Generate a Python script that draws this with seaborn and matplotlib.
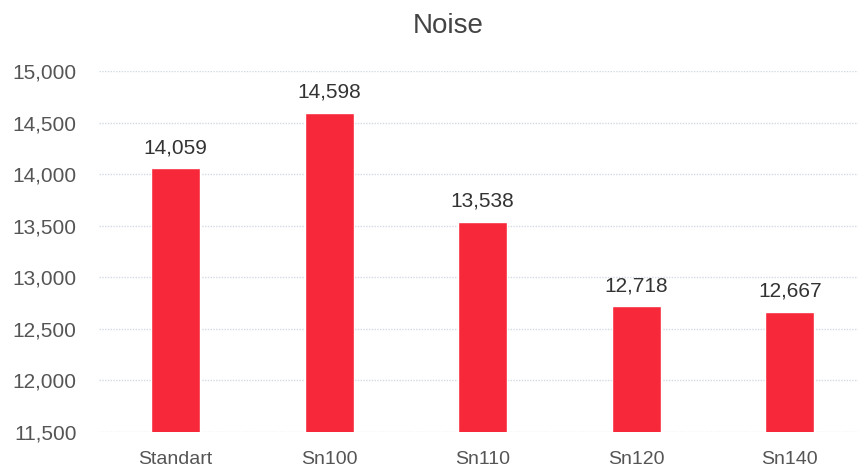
import matplotlib
matplotlib.use("Agg")
import matplotlib.pyplot as plt
import seaborn as sns
import pandas as pd
from matplotlib.ticker import FuncFormatter

categories = ["Standart", "Sn100", "Sn110", "Sn120", "Sn140"]
values = [14059, 14598, 13538, 12718, 12667]
labels = ["14,059", "14,598", "13,538", "12,718", "12,667"]

sns.set_theme(style="white")
plt.rcParams["font.family"] = ["Liberation Sans", "DejaVu Sans"]

df = pd.DataFrame({"cat": categories, "val": values})

fig = plt.figure(figsize=(8.59, 4.68), dpi=100)
ax = fig.add_axes([0.115, 0.077, 0.884, 0.771])

sns.barplot(data=df, x="cat", y="val", color="#F7283A", width=0.32,
            saturation=1, ax=ax, zorder=3)

ax.set_ylim(11500, 15000)
ax.set_xlim(-0.5, 4.445)
ax.set_yticks(range(11500, 15001, 500))
ax.yaxis.set_major_formatter(FuncFormatter(lambda v, p: f"{int(v):,}"))
ax.grid(axis="y", color="#D3DAE4", linestyle=(0, (1, 1)), linewidth=1.0, zorder=0)
ax.set_axisbelow(True)
for s in ax.spines.values():
    s.set_visible(False)
ax.set_xlabel("")
ax.set_ylabel("")
ax.tick_params(axis="y", labelsize=15, labelcolor="#555555", pad=16, length=0)
ax.tick_params(axis="x", labelsize=14, labelcolor="#555555", pad=14, length=0)

for i, (v, lab) in enumerate(zip(values, labels)):
    ax.annotate(lab, (i, v), xytext=(0, 8), textcoords="offset points",
                ha="center", va="bottom", fontsize=15, color="#333333")

fig.text(0.522, 0.945, "Noise", ha="center", va="center", fontsize=20, color="#444444")

fig.savefig("out.png", dpi=100, facecolor="white")
